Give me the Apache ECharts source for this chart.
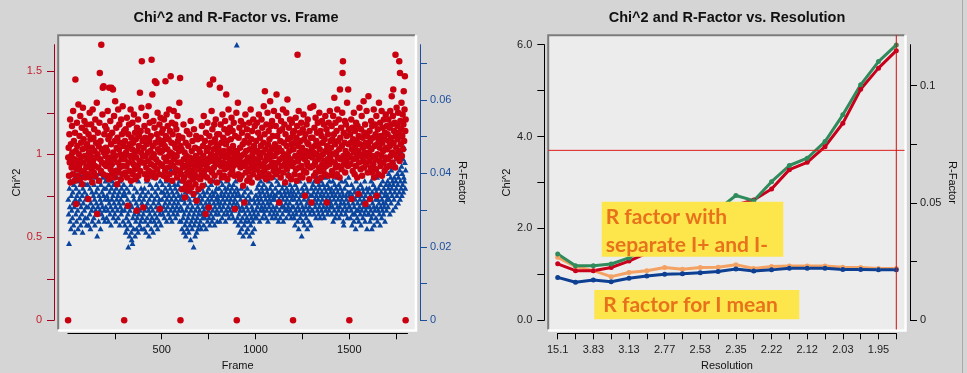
<!DOCTYPE html>
<html><head><meta charset="utf-8">
<script src="https://cdn.jsdelivr.net/npm/echarts@6/dist/echarts.min.js"></script>
<style>html,body{margin:0;padding:0;background:#d5d5d5;}#c{width:967px;height:373px;}</style>
</head><body><div id="c"></div>
<script>
// ---- Left panel: per-frame values (every 2nd frame), Chi^2 in hundredths, R-factor in thousandths
const frameStep = 2;
const chi2x100 = [
98,104,87,112,95,121,83,106,99,92,117,101,88,126,94,108,97,84,113,145,102,70,91,119,105,96,87,130,100,93,111,85,123,98,107,90,116,82,103,128,95,109,89,120,99,86,114,104,92,118,
106,97,88,73,112,101,94,125,86,109,99,118,91,104,83,127,96,110,89,115,102,93,121,87,107,98,131,64,100,113,92,105,84,119,149,97,108,90,166,103,95,124,140,88,141,101,112,94,117,99,
104,93,115,87,102,126,96,109,85,140,111,98,120,91,106,140,94,113,88,139,101,97,123,86,108,132,99,90,116,104,82,110,95,127,89,103,118,92,107,100,85,121,97,112,93,129,88,105,99,114,
97,108,89,115,101,93,122,86,104,69,112,95,118,90,106,99,127,84,110,96,103,119,88,107,94,124,100,91,113,85,109,98,66,116,102,93,121,87,105,111,96,137,90,114,101,128,156,95,108,99,
68,104,95,117,88,110,99,123,92,106,85,114,101,96,129,90,108,119,87,102,111,94,157,98,136,105,89,120,100,93,116,144,86,107,97,143,112,91,125,103,95,109,88,118,67,101,122,94,106,113,
102,93,115,108,87,121,98,105,90,144,111,96,124,85,103,117,92,109,99,127,88,114,101,147,95,107,119,84,112,100,93,126,97,106,89,118,104,91,115,99,86,123,108,95,111,102,131,90,146,105,
95,88,103,79,110,92,84,118,97,86,101,74,93,107,81,99,114,89,96,78,105,91,83,112,98,87,120,94,80,102,90,108,85,97,76,115,93,88,104,82,99,111,72,95,86,109,91,79,103,97,
92,101,85,110,96,88,117,94,81,105,99,123,90,87,108,97,64,113,93,102,86,119,95,104,68,91,111,142,98,84,107,100,126,89,115,96,145,103,92,118,87,109,99,121,94,106,83,112,97,101,
104,96,112,89,140,101,118,93,107,86,99,124,95,110,102,87,115,91,120,98,106,136,94,108,85,113,100,127,92,103,97,116,88,109,95,122,101,90,114,105,93,119,98,87,67,111,102,96,125,99,
101,94,131,88,110,97,116,85,104,92,120,99,87,113,95,106,81,118,100,71,108,93,124,89,102,96,115,84,111,98,90,107,119,86,103,95,127,92,109,83,114,100,88,121,97,105,91,117,94,102,
97,108,91,119,102,86,113,95,124,100,89,110,98,105,93,121,87,116,101,94,107,129,90,112,138,96,103,85,118,99,92,125,106,88,114,97,109,101,132,93,117,86,104,120,95,111,99,90,126,103,
99,106,92,117,88,136,101,111,95,123,90,104,71,114,97,108,86,120,102,93,115,98,127,89,107,100,118,94,83,112,96,125,105,91,133,99,109,87,116,102,94,121,97,110,85,106,119,93,103,113,
103,95,114,88,107,99,122,91,110,84,117,160,96,105,126,92,101,113,87,108,98,119,93,104,86,115,100,124,90,109,97,75,112,102,89,118,95,107,121,93,106,99,85,114,101,128,92,110,71,104,
98,110,93,129,101,87,116,105,95,122,89,108,100,113,84,119,97,106,92,125,103,90,114,99,86,111,120,94,107,100,91,118,96,109,88,123,102,93,115,71,105,97,112,87,119,101,94,126,99,108,
104,96,117,90,109,100,123,87,112,134,95,106,119,92,101,114,88,127,98,108,93,121,103,86,139,110,97,116,91,105,125,149,156,99,113,94,107,120,89,102,118,96,111,131,100,93,139,106,115,98,
99,112,94,107,121,73,103,116,90,109,97,125,101,88,114,105,93,119,98,108,86,117,102,76,111,95,128,100,106,91,115,99,123,87,110,104,96,132,92,113,101,118,70,107,94,126,99,111,89,105,
135,101,96,114,73,108,92,120,103,89,117,99,110,94,127,86,105,118,97,112,91,123,75,106,100,115,88,109,131,96,104,119,93,111,99,126,87,107,116,102,95,121,109,90,113,98,124,104,92,117,
103,112,97,121,108,93,116,105,126,99,110,118,135,101,95,123,139,107,114,100,119,92,160,111,104,128,98,117,109,125,102,113,156,96,149,120,106,115,131,99,111,124,103,118,138,108,127,147,114,121
];
const rfacMilli = [
33,29,21,36,31,27,38,25,34,30,40,28,35,32,26,37,31,24,39,33,29,36,27,34,41,30,25,38,32,35,28,33,37,26,31,39,29,34,24,36,32,27,40,30,35,28,33,37,31,26,
34,28,37,31,26,39,33,29,36,25,32,38,30,35,27,41,31,34,28,37,33,26,39,30,35,32,29,23,36,31,38,27,34,40,30,33,25,37,32,29,35,31,39,28,34,36,30,27,33,38,
31,36,28,34,39,30,33,27,37,32,35,29,40,31,26,36,33,38,30,34,28,37,32,35,29,41,31,27,36,33,39,30,34,28,37,32,35,26,38,31,33,29,36,30,40,34,27,32,37,35,
30,26,34,24,31,28,36,25,33,29,20,27,35,23,30,32,26,37,24,22,31,21,28,34,25,33,29,36,23,30,27,32,25,35,28,31,24,38,29,33,26,30,34,27,36,25,32,28,35,31,
29,33,25,36,30,27,34,24,31,38,28,32,26,35,30,23,33,29,37,27,31,25,34,28,36,30,24,32,39,27,33,29,35,26,31,37,28,34,25,30,36,32,27,33,29,38,31,26,35,30,
33,37,29,35,31,40,28,34,32,36,30,38,27,33,35,31,39,29,34,37,32,28,36,30,41,33,27,35,31,38,29,34,32,37,30,36,28,33,39,31,35,29,37,32,34,30,38,27,36,33,
31,27,34,25,30,36,28,33,24,29,32,26,35,23,30,27,34,25,31,28,36,24,29,33,26,32,22,30,27,35,25,31,28,34,20,29,26,33,23,30,27,32,24,35,28,31,25,29,33,26,
30,34,27,32,25,36,29,33,28,31,35,26,30,34,28,37,32,25,31,29,35,27,33,30,36,28,32,26,34,31,29,37,33,27,35,30,28,34,32,38,26,31,35,29,33,36,30,27,34,32,
33,29,36,31,27,38,32,34,30,35,28,37,33,31,39,29,34,32,36,27,35,30,38,33,29,36,31,34,28,37,32,30,35,33,40,29,36,31,34,28,37,32,30,35,33,27,38,31,34,36,
32,28,35,26,31,29,34,24,30,33,27,36,25,31,28,34,23,30,32,26,35,29,27,33,24,31,28,36,25,30,34,27,32,23,29,33,26,35,28,31,24,30,27,21,33,29,25,32,28,34,
30,34,28,36,31,33,29,37,32,35,27,34,30,38,33,31,36,28,35,32,30,37,29,34,31,39,33,28,36,30,35,32,27,34,38,31,33,29,36,32,34,30,37,28,35,33,31,39,29,34,
33,30,36,28,34,31,38,29,35,32,27,37,33,30,35,28,39,32,34,31,36,29,33,27,37,31,35,30,34,38,32,28,36,33,30,35,31,40,29,34,32,37,30,35,28,33,36,31,34,29,
31,35,28,33,26,37,30,34,29,32,36,27,31,35,25,33,30,38,28,34,32,29,23,36,31,27,35,30,33,26,37,29,34,31,28,36,32,25,35,30,33,27,38,31,29,34,26,32,36,30,
34,30,37,32,35,29,38,33,31,36,28,34,32,39,30,35,33,29,37,31,36,28,34,32,38,30,35,33,29,37,31,34,28,36,32,39,30,35,33,31,37,29,34,32,36,30,38,33,31,35,
32,36,29,34,31,38,27,35,33,30,37,28,34,32,36,29,39,31,35,33,30,37,28,34,31,36,32,29,38,33,35,30,34,27,26,32,36,31,38,29,34,33,30,37,28,35,32,39,31,34,
31,35,28,33,30,37,26,34,29,32,36,27,31,35,29,33,25,38,30,34,28,32,36,30,27,35,31,33,29,37,26,34,30,32,36,28,35,31,33,29,38,27,34,30,32,36,25,31,35,29,
33,29,36,31,27,34,30,38,28,25,35,32,29,37,31,26,34,30,36,33,28,35,31,39,27,33,30,36,32,29,34,26,37,31,35,28,33,30,38,32,29,36,31,34,27,35,32,37,30,33,
34,38,31,36,40,33,37,29,35,39,32,41,36,34,38,30,37,43,33,39,35,42,31,38,36,44,34,40,37,32,39,45,35,41,33,38,46,36,42,34,40,37,44,35,39,47,38,43,36,41
];
const zeroChiFrames = [1, 300, 600, 900, 1200, 1500, 1800];
const extraRFrames = [900];
const extraRValues = [0.075];

// ---- Right panel: resolution shells
const resolution = ['15.1','4.57','3.83','3.41','3.13','2.93','2.77','2.64','2.53','2.43','2.35','2.28','2.22','2.17','2.12','2.07','2.03','1.99','1.95','1.92'];
const chiAnom = [1.23,1.08,1.08,1.15,1.29,1.46,1.68,1.90,2.11,2.33,2.51,2.62,2.86,3.28,3.44,3.78,4.29,5.03,5.49,5.87];
const chiMean = [1.37,1.17,1.08,0.95,1.04,1.08,1.15,1.11,1.15,1.155,1.21,1.13,1.17,1.18,1.18,1.18,1.155,1.15,1.13,1.13];
const rAnom = [0.0283,0.0233,0.0233,0.0240,0.0266,0.0314,0.0354,0.0392,0.0431,0.0473,0.0532,0.0510,0.0591,0.0660,0.0691,0.0762,0.0876,0.1004,0.1103,0.1174];
const rMean = [0.0183,0.0162,0.0172,0.0164,0.0179,0.0189,0.0196,0.0198,0.0203,0.0208,0.0219,0.0210,0.0215,0.0222,0.0222,0.0222,0.0217,0.0217,0.0215,0.0215];
const cursorChi = 3.7;
const cursorIndex = 19;

// ---- Tick values
const frameTicks = [250,500,750,1000,1250,1500,1750];
const frameLabels = [500,1000,1500];
const chiTicksL = [0,0.25,0.5,0.75,1,1.25,1.5];
const chiLabelsL = [0,0.5,1,1.5];
const rTicksL = [0,0.01,0.02,0.03,0.04,0.05,0.06,0.07];
const rLabelsL = [0,0.02,0.04,0.06];
const chiTicksR = [0,1,2,3,4,5,6];
const chiLabelsR = [0,2,4,6];
const rTicksR = [0,0.025,0.05,0.075,0.1];
const rLabelsR = [0,0.05,0.1];

const chart = echarts.init(document.getElementById('c'), null, {renderer:'canvas'});
const FF = 'Liberation Sans';
const chiPts = chi2x100.map((v,i)=>[frameStep*(i+1), v/100]).concat(zeroChiFrames.map(f=>[f,0]));
const rPts = rfacMilli.map((v,i)=>[frameStep*(i+1), v/1000]).concat(extraRFrames.map((f,i)=>[f, extraRValues[i]]));

function vAxis(o){
  const c = o.color;
  return {
    type:'value', gridIndex:o.grid, position:o.pos, min:0, max:o.max, offset:o.offset,
    axisLine:{show:true, onZero:false, lineStyle:{color:c, width:1}},
    axisTick:{show:true, customValues:o.ticks, length:7, lineStyle:{color:c}},
    axisLabel:{show:true, customValues:o.labels, margin:o.margin, color:o.labelColor||c, fontFamily:FF, fontSize:11,
      formatter:o.fmt||(v=>String(v))},
    splitLine:{show:false}, minorTick:{show:false},
    name:o.name, nameLocation:'middle', nameRotate:o.rot, nameGap:o.gap,
    nameTextStyle:{color:'#111', fontFamily:FF, fontSize:11}
  };
}

const option = {
  animation:false,
  backgroundColor:'#d5d5d5',
  grid:[
    {left:67.9, top:44.7, width:339.6, height:275.6, outerBoundsMode:'none', containLabel:false},
    {left:557.7, top:44.7, width:338.6, height:275.6, outerBoundsMode:'none', containLabel:false}
  ],
  xAxis:[
    {type:'value', gridIndex:0, position:'bottom', min:0, max:1810, offset:13,
     axisLine:{show:true, onZero:false, lineStyle:{color:'#000'}},
     axisTick:{show:true, customValues:frameTicks, length:6, lineStyle:{color:'#000'}},
     axisLabel:{customValues:frameLabels, formatter:v=>String(v), margin:11, color:'#111', fontFamily:FF, fontSize:11},
     splitLine:{show:false},
     name:'Frame', nameLocation:'middle', nameGap:23, nameTextStyle:{color:'#111', fontFamily:FF, fontSize:11}},
    {type:'category', gridIndex:1, position:'bottom', data:resolution, boundaryGap:false, offset:13,
     axisLine:{show:true, onZero:false, lineStyle:{color:'#000'}},
     axisTick:{show:true, interval:0, length:6, lineStyle:{color:'#000'}},
     axisLabel:{interval:1, margin:11, color:'#222', fontFamily:FF, fontSize:11},
     splitLine:{show:false},
     name:'Resolution', nameLocation:'middle', nameGap:23, nameTextStyle:{color:'#111', fontFamily:FF, fontSize:11}}
  ],
  yAxis:[
    vAxis({grid:0,pos:'left',max:1.66,offset:13.9,color:'#a3001f',labelColor:'#c4202f',ticks:chiTicksL,labels:chiLabelsL,margin:12,name:'Chi^2',rot:90,gap:32}),
    vAxis({grid:0,pos:'right',max:0.075,offset:12.5,color:'#1d4f9f',ticks:rTicksL,labels:rLabelsL,margin:10,name:'R-Factor',rot:-90,gap:37}),
    vAxis({grid:1,pos:'left',max:6,offset:13.4,color:'#000',labelColor:'#222',ticks:chiTicksR,labels:chiLabelsR,margin:12,name:'Chi^2',rot:90,gap:32,fmt:v=>v.toFixed(1)}),
    vAxis({grid:1,pos:'right',max:0.1175,offset:13.7,color:'#000',labelColor:'#222',ticks:rTicksR,labels:rLabelsR,margin:10,name:'R-Factor',rot:-90,gap:37})
  ],
  series:[
    {type:'scatter', name:'R-Factor', xAxisIndex:0, yAxisIndex:1, data:rPts, symbol:'triangle', symbolSize:[6,5.5],
     itemStyle:{color:'#0a449c', opacity:1}, clip:false, silent:true},
    {type:'scatter', name:'Chi^2', xAxisIndex:0, yAxisIndex:0, data:chiPts, symbol:'circle', symbolSize:6.5,
     itemStyle:{color:'#c9000f', opacity:1}, clip:false, silent:true},
    {type:'line', name:'Chi^2 mean', xAxisIndex:1, yAxisIndex:2, data:chiMean, symbol:'circle', symbolSize:5, showAllSymbol:true,
     lineStyle:{color:'#f3a263', width:3}, itemStyle:{color:'#f3a263'}, silent:true},
    {type:'line', name:'R mean', xAxisIndex:1, yAxisIndex:3, data:rMean, symbol:'circle', symbolSize:5, showAllSymbol:true,
     lineStyle:{color:'#0d3f92', width:3}, itemStyle:{color:'#0d3f92'}, silent:true},
    {type:'line', name:'Chi^2 anom', xAxisIndex:1, yAxisIndex:2, data:chiAnom, symbol:'circle', symbolSize:5, showAllSymbol:true,
     lineStyle:{color:'#c8001c', width:3}, itemStyle:{color:'#c8001c'}, silent:true},
    {type:'line', name:'R anom', xAxisIndex:1, yAxisIndex:3, data:rAnom, symbol:'circle', symbolSize:5, showAllSymbol:true,
     lineStyle:{color:'#2f8b5b', width:3}, itemStyle:{color:'#2f8b5b'}, silent:true}
  ]
};
chart.setOption(option);

const yCur = chart.convertToPixel({yAxisIndex:2}, cursorChi);
const xCur = chart.convertToPixel({xAxisIndex:1}, cursorIndex);

function plotBg(x0,y0,x1,y1){
  return [
    {type:'rect', z:-10, shape:{x:x0,y:y0,width:x1-x0,height:y1-y0}, style:{fill:'#ececec'}},
    {type:'polyline', z:-9, shape:{points:[[x0,y1],[x0,y0],[x1,y0]]}, style:{stroke:'#7c7c7c', lineWidth:2, fill:null}},
    {type:'polyline', z:-9, shape:{points:[[x0,y1+1],[x1+1,y1+1],[x1+1,y0]]}, style:{stroke:'#ffffff', lineWidth:2.5, fill:null}}
  ];
}
const annFont = 'bold 21px Lato';
const annColor = '#e8721c';
const graphics = [].concat(
  plotBg(58.2,35.2,415,329.5),
  plotBg(548.2,35.2,904.5,329.5),
  [
    {type:'text', x:236, y:18, style:{text:'Chi^2 and R-Factor vs. Frame', font:'bold 14.5px Liberation Sans', fill:'#111', align:'center', verticalAlign:'middle'}},
    {type:'text', x:727, y:18, style:{text:'Chi^2 and R-Factor vs. Resolution', font:'bold 14.5px Liberation Sans', fill:'#111', align:'center', verticalAlign:'middle'}},
    {type:'line', z:5, shape:{x1:548.2, y1:yCur, x2:904.5, y2:yCur}, style:{stroke:'#e01a1a', lineWidth:1}},
    {type:'line', z:5, shape:{x1:xCur, y1:35.2, x2:xCur, y2:329.5}, style:{stroke:'#d01010', lineWidth:1}},
    {type:'rect', z:50, shape:{x:601.7, y:201.7, width:181.6, height:55}, style:{fill:'#fde64b'}},
    {type:'text', z:51, x:605.7, y:217, style:{text:'R factor with', font:annFont, fill:annColor, align:'left', verticalAlign:'middle'}},
    {type:'text', z:51, x:605.7, y:245.7, style:{text:'separate I+ and I-', font:annFont, fill:annColor, align:'left', verticalAlign:'middle'}},
    {type:'rect', z:50, shape:{x:594.3, y:290, width:205, height:29.3}, style:{fill:'#fde64b'}},
    {type:'text', z:51, x:603.3, y:305.7, style:{text:'R factor for I mean', font:annFont, fill:annColor, align:'left', verticalAlign:'middle'}},
    {type:'line', z:1, shape:{x1:962.5, y1:0, x2:962.5, y2:373}, style:{stroke:'#a9a9a9', lineWidth:1}}
  ]
);
chart.setOption({graphic:graphics});
</script>
</body></html>
